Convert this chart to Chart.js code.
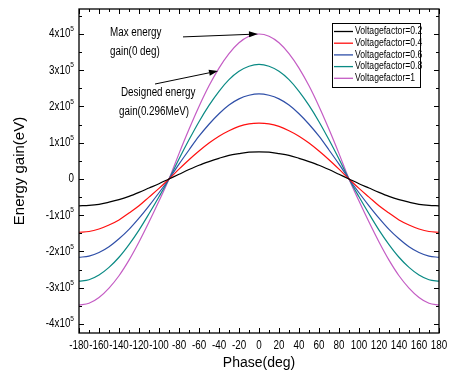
<!DOCTYPE html>
<html>
<head>
<meta charset="utf-8">
<script src="https://cdn.jsdelivr.net/npm/chart.js@4.4.0/dist/chart.umd.min.js"></script>
<style>
  html, body { margin: 0; padding: 0; background: #fff; }
  #wrap { width: 451px; height: 385px; position: relative; }
</style>
</head>
<body>
<div id="wrap"><canvas id="c" width="451" height="385"></canvas></div>
<script>
// Phase (deg)
const phase = [-180,-170,-160,-150,-140,-130,-120,-110,-100,-90,-80,-70,-60,-50,-40,-30,-20,-10,0,
               10,20,30,40,50,60,70,80,90,100,110,120,130,140,150,160,170,180];
// Energy gain, in units of 1e5 eV
const vf02 = [-0.74,-0.73,-0.70,-0.64,-0.57,-0.48,-0.37,-0.25,-0.13,0,0.13,0.26,0.38,0.48,0.57,0.65,0.70,0.74,0.75,
              0.74,0.70,0.65,0.57,0.48,0.38,0.26,0.13,0,-0.13,-0.25,-0.37,-0.48,-0.57,-0.64,-0.70,-0.73,-0.74];
const vf04 = [-1.47,-1.45,-1.38,-1.27,-1.13,-0.94,-0.74,-0.50,-0.26,0,0.27,0.53,0.77,0.99,1.18,1.33,1.45,1.52,1.54,
              1.52,1.45,1.33,1.18,0.99,0.77,0.53,0.27,0,-0.26,-0.50,-0.74,-0.94,-1.13,-1.27,-1.38,-1.45,-1.47];
const vf06 = [-2.16,-2.13,-2.03,-1.87,-1.65,-1.39,-1.08,-0.74,-0.38,0,0.41,0.80,1.18,1.51,1.80,2.04,2.21,2.31,2.35,
              2.31,2.21,2.04,1.80,1.51,1.18,0.80,0.41,0,-0.38,-0.74,-1.08,-1.39,-1.65,-1.87,-2.03,-2.13,-2.16];
const vf08 = [-2.82,-2.78,-2.65,-2.44,-2.16,-1.81,-1.41,-0.96,-0.49,0,0.55,1.08,1.58,2.03,2.42,2.74,2.97,3.11,3.16,
              3.11,2.97,2.74,2.42,2.03,1.58,1.08,0.55,0,-0.49,-0.96,-1.41,-1.81,-2.16,-2.44,-2.65,-2.78,-2.82];
const vf10 = [-3.48,-3.43,-3.27,-3.01,-2.67,-2.24,-1.74,-1.19,-0.61,0,0.70,1.37,2.00,2.57,3.06,3.46,3.76,3.94,4.00,
              3.94,3.76,3.46,3.06,2.57,2.00,1.37,0.70,0,-0.61,-1.19,-1.74,-2.24,-2.67,-3.01,-3.27,-3.43,-3.48];
const seriesLabels = ['Voltagefactor=0.2','Voltagefactor=0.4','Voltagefactor=0.6','Voltagefactor=0.8','Voltagefactor=1'];
const seriesColors = ['#000000','#ff1010','#2f4fa8','#0a8a84','#c45cc4'];
const xTicks = [-180,-160,-140,-120,-100,-80,-60,-40,-20,0,20,40,60,80,100,120,140,160,180];
const yTicks = [-4,-3,-2,-1,0,1,2,3,4]; // x 1e5
const SCALE = 1e5;

const REG = "'Liberation Sans', Arial, sans-serif";
const SQUEEZE = 0.82; // emulate a narrow face

const allSeries = [vf02, vf04, vf06, vf08, vf10];
const datasets = allSeries.map((arr, i) => ({
  label: seriesLabels[i],
  data: phase.map((p, j) => ({x: p, y: arr[j] * SCALE})),
  borderColor: seriesColors[i],
  backgroundColor: seriesColors[i],
  borderWidth: 1.2,
  pointRadius: 0,
  cubicInterpolationMode: 'monotone',
  fill: false
}));

function narrowText(ctx, text, x, y, align, size) {
  ctx.save();
  ctx.font = size + 'px ' + REG;
  ctx.translate(x, y);
  ctx.scale(SQUEEZE, 1);
  ctx.textAlign = align;
  ctx.textBaseline = 'middle';
  ctx.fillStyle = '#000';
  ctx.fillText(text, 0, 0);
  ctx.restore();
}
function narrowWidth(ctx, text, size) {
  ctx.save();
  ctx.font = size + 'px ' + REG;
  const w = ctx.measureText(text).width * SQUEEZE;
  ctx.restore();
  return w;
}

// frame, inward ticks and tick labels
const framePlugin = {
  id: 'frame',
  afterDraw(chart) {
    const {ctx, chartArea: a, scales: {x, y}} = chart;
    ctx.save();
    ctx.strokeStyle = '#000';
    ctx.lineWidth = 1.3;
    ctx.strokeRect(a.left, a.top, a.right - a.left, a.bottom - a.top);
    ctx.lineWidth = 1;
    ctx.beginPath();
    for (let v = -180; v <= 180; v += 10) {
      const px = Math.round(x.getPixelForValue(v)) + 0.5;
      const len = (v % 20 === 0) ? 5 : 3;
      ctx.moveTo(px, a.bottom); ctx.lineTo(px, a.bottom - len);
      ctx.moveTo(px, a.top); ctx.lineTo(px, a.top + len);
    }
    for (let v = -4; v <= 4.5; v += 0.5) {
      const py = Math.round(y.getPixelForValue(v * SCALE)) + 0.5;
      const len = (Number.isInteger(v)) ? 5 : 3;
      ctx.moveTo(a.left, py); ctx.lineTo(a.left + len, py);
      ctx.moveTo(a.right, py); ctx.lineTo(a.right - len, py);
    }
    ctx.stroke();
    ctx.restore();

    // x tick labels
    xTicks.forEach(v => narrowText(ctx, String(v), x.getPixelForValue(v), a.bottom + 13, 'center', 12));
    // y tick labels with superscript exponent
    yTicks.forEach(v => {
      const py = y.getPixelForValue(v * SCALE);
      const rx = a.left - 5;
      if (v === 0) { narrowText(ctx, '0', rx, py, 'right', 12); return; }
      const expW = narrowWidth(ctx, '5', 8);
      narrowText(ctx, '5', rx, py - 5, 'right', 8);
      narrowText(ctx, v + 'x10', rx - expW, py, 'right', 12);
    });
  }
};

// legend box
const legendPlugin = {
  id: 'boxLegend',
  afterDraw(chart) {
    const {ctx, chartArea: a} = chart;
    const ds = chart.data.datasets;
    const right = a.right - 19, top = a.top + 14;
    const w = 88, rowH = 11.7, h = 64;
    const left = right - w;
    ctx.save();
    ctx.fillStyle = '#fff';
    ctx.fillRect(left, top, w, h);
    ctx.strokeStyle = '#000';
    ctx.lineWidth = 1;
    ctx.strokeRect(left + 0.5, top + 0.5, w, h);
    ds.forEach((d, i) => {
      const cy = top + 8.5 + i * rowH;
      ctx.strokeStyle = d.borderColor;
      ctx.lineWidth = 1.3;
      ctx.beginPath();
      ctx.moveTo(left + 2, cy); ctx.lineTo(left + 21, cy);
      ctx.stroke();
      narrowText(ctx, d.label, left + 23, cy, 'left', 10.5);
    });
    ctx.restore();
  }
};

// annotations (data coordinates)
const notes = [
  {text: 'Max energy', x: -149, y: 4.03},
  {text: 'gain(0 deg)', x: -149, y: 3.50},
  {text: 'Designed energy', x: -138, y: 2.37},
  {text: 'gain(0.296MeV)', x: -140, y: 1.85}
];
const arrows = [
  {x0: -76, y0: 3.92, x1: -1, y1: 4.0},
  {x0: -104, y0: 2.62, x1: -41, y1: 2.98}
];
const notePlugin = {
  id: 'notes',
  afterDatasetsDraw(chart) {
    const {ctx, scales: {x, y}} = chart;
    notes.forEach(n => narrowText(ctx, n.text, x.getPixelForValue(n.x), y.getPixelForValue(n.y * SCALE), 'left', 12));
    ctx.save();
    ctx.strokeStyle = '#000';
    ctx.fillStyle = '#000';
    ctx.lineWidth = 1;
    arrows.forEach(ar => {
      const X0 = x.getPixelForValue(ar.x0), Y0 = y.getPixelForValue(ar.y0 * SCALE);
      const X1 = x.getPixelForValue(ar.x1), Y1 = y.getPixelForValue(ar.y1 * SCALE);
      const ang = Math.atan2(Y1 - Y0, X1 - X0);
      const L = 9, W = 3;
      const bx = X1 - L * Math.cos(ang), by = Y1 - L * Math.sin(ang);
      ctx.beginPath(); ctx.moveTo(X0, Y0); ctx.lineTo(bx, by); ctx.stroke();
      ctx.beginPath();
      ctx.moveTo(X1, Y1);
      ctx.lineTo(bx + W * Math.sin(ang), by - W * Math.cos(ang));
      ctx.lineTo(bx - W * Math.sin(ang), by + W * Math.cos(ang));
      ctx.closePath(); ctx.fill();
    });
    ctx.restore();
  }
};

new Chart(document.getElementById('c'), {
  type: 'line',
  data: { datasets },
  options: {
    responsive: false,
    animation: false,
    layout: { padding: { top: 9, right: 12, left: 0, bottom: 0 } },
    plugins: { legend: { display: false }, tooltip: { enabled: false } },
    scales: {
      x: {
        type: 'linear',
        min: -180, max: 180,
        afterFit(s) { s.height = 52; },
        afterBuildTicks(s) { s.ticks = xTicks.map(v => ({value: v})); },
        grid: { display: false, drawTicks: false },
        border: { display: false },
        ticks: { display: false },
        title: { display: true, text: 'Phase(deg)', color: '#000',
                 font: { family: REG, size: 14 }, padding: { top: 0, bottom: 13 } }
      },
      y: {
        type: 'linear',
        min: -4.25 * SCALE, max: 4.69 * SCALE,
        afterFit(s) { s.width = 79; },
        afterBuildTicks(s) { s.ticks = yTicks.map(v => ({value: v * SCALE})); },
        grid: { display: false, drawTicks: false },
        border: { display: false },
        ticks: { display: false },
        title: { display: true, text: 'Energy gain(eV)', color: '#000',
                 font: { family: REG, size: 15 }, padding: { top: 11, bottom: 0 } }
      }
    }
  },
  plugins: [framePlugin, legendPlugin, notePlugin]
});
</script>
</body>
</html>
